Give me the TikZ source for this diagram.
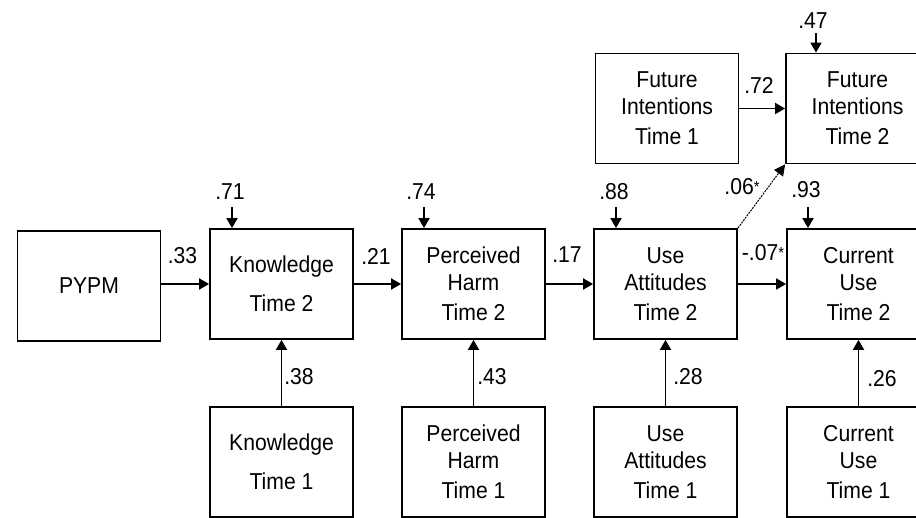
\documentclass[tikz,border=0pt]{standalone}
\usepackage{fontspec}
\setmainfont{Liberation Sans}[FakeStretch=0.92]
\usetikzlibrary{arrows.meta}
\newcommand{\sigmark}{\raisebox{2pt}{\fontsize{16}{16}\selectfont *}}
\begin{document}
\begin{tikzpicture}[x=1pt,y=-1pt,
  box/.style={draw, line width=1.8pt, minimum width=143pt, minimum height=110pt, inner sep=0pt, align=center, font=\fontsize{23}{27}\selectfont},
  lab/.style={font=\fontsize{23}{27}\selectfont, inner sep=1pt},
  arr/.style={line width=1.8pt, -{Triangle[length=10pt,width=11pt]}},
  thinarr/.style={line width=1pt, dash pattern=on 2pt off 1pt, -{Triangle[length=11pt,width=11pt]}},
]
\useasboundingbox (0,0) rectangle (916,518);
\clip (0,0) rectangle (916,518);
% boxes
\node[box] (pypm) at (89,286) {PYPM};
\node[box] (k2) at (281.5,284) {Knowledge\\[12pt]Time 2};
\node[box] (ph2) at (473.5,284) {Perceived\\Harm\\[3pt]Time 2};
\node[box] (ua2) at (665.5,284) {Use\\Attitudes\\[3pt]Time 2};
\node[box] (cu2) at (858.5,284) {Current\\Use\\[3pt]Time 2};
\node[box] (k1) at (281.5,462) {Knowledge\\[12pt]Time 1};
\node[box] (ph1) at (473.5,462) {Perceived\\Harm\\[3pt]Time 1};
\node[box] (ua1) at (665.5,462) {Use\\Attitudes\\[3pt]Time 1};
\node[box] (cu1) at (858.5,462) {Current\\Use\\[3pt]Time 1};
\node[box] (fi1) at (667,108.5) {Future\\Intentions\\[3pt]Time 1};
\node[box] (fi2) at (857.5,108.5) {Future\\Intentions\\[3pt]Time 2};
% horizontal paths
\draw[arr] (pypm.east |- k2) -- (k2.west);
\draw[arr] (k2) -- (ph2);
\draw[arr] (ph2) -- (ua2);
\draw[arr] (ua2) -- (cu2);
\draw[arr] (fi1) -- (fi2);
\draw[thinarr] (ua2.north east) -- (fi2.south west);
% vertical paths
\draw[arr] (k1) -- (k2);
\draw[arr] (ph1) -- (ph2);
\draw[arr] (ua1) -- (ua2);
\draw[arr] (cu1) -- (cu2);
% error arrows
\coordinate (ek2) at (232,207);
\coordinate (eph2) at (424,207);
\coordinate (eua2) at (616,207);
\coordinate (ecu2) at (808,207);
\coordinate (efi2) at (816,33);
\draw[arr] (ek2) -- (ek2 |- k2.north);
\draw[arr] (eph2) -- (eph2 |- ph2.north);
\draw[arr] (eua2) -- (eua2 |- ua2.north);
\draw[arr] (ecu2) -- (ecu2 |- cu2.north);
\draw[arr] (efi2) -- (efi2 |- fi2.north);
% labels
\node[lab] (l71) at (230,192) {.71};
\node[lab] (l74) at (421,192) {.74};
\node[lab] (l88) at (614,192) {.88};
\node[lab] (l93) at (806,190) {.93};
\node[lab] (l47) at (813,21) {.47};
\node[lab] (l33) at (182.5,256) {.33};
\node[lab] (l21) at (376,256) {.21};
\node[lab] (l17) at (567,255) {.17};
\node[lab] (l07) at (763,253) {-.07\sigmark};
\node[lab] (l72) at (759,85) {.72};
\node[lab] (l06) at (742,187) {.06\sigmark};
\node[lab] (l38) at (299,377) {.38};
\node[lab] (l43) at (492,377) {.43};
\node[lab] (l28) at (688,377) {.28};
\node[lab] (l26) at (882,379) {.26};
\end{tikzpicture}
\end{document}
